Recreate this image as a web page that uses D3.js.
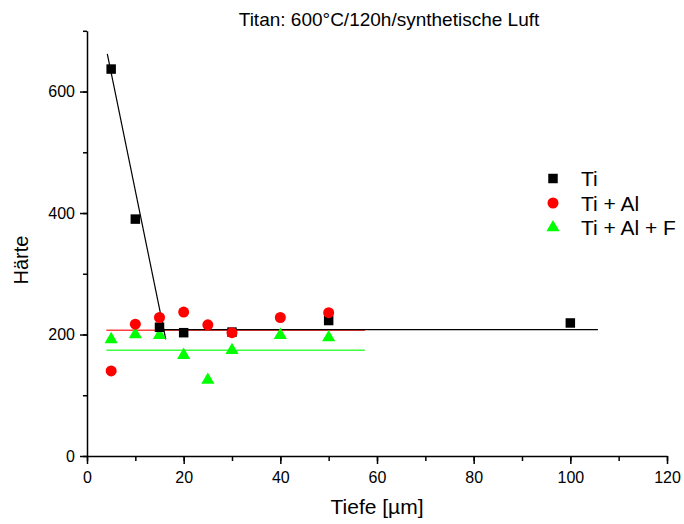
<!DOCTYPE html>
<meta charset="utf-8">
<head>
<style>
body { margin: 0; background: #fff; }
svg { font-family: Arial, "Liberation Sans", sans-serif; }
.axis path, .axis line { stroke: #000; stroke-width: 1.5; }
.axis text { font-size: 16px; fill: #000; }
</style>
</head>
<body>
<svg width="684" height="524"></svg>
<script src="https://cdnjs.cloudflare.com/ajax/libs/d3/7.8.5/d3.min.js"></script>
<script>

// Ti
var depthTi = [5, 10, 15, 20, 30, 50, 100];
var hardTi  = [637, 390, 212, 203, 204, 223, 219];
// Ti + Al
var depthAl = [5, 10, 15, 20, 25, 30, 40, 50];
var hardAl  = [140, 217, 228, 237, 216, 203, 228, 236];
// Ti + Al + F
var depthF  = [5, 10, 15, 20, 25, 30, 40, 50];
var hardF   = [192, 200, 199, 166, 125, 174, 199, 195];

// fit lines, [depth, hardness] end points
var fitTiDrop = [[4.2, 662], [16.3, 192]];
var fitTiFlat = [[15.2, 208], [105.7, 208]];
var fitAl     = [[4.0, 207], [57.5, 207]];
var fitF      = [[4.0, 174], [57.5, 174]];

var xMajor = [0, 20, 40, 60, 80, 100, 120];
var yMajor = [0, 200, 400, 600];

var svg = d3.select("svg");

var x = d3.scaleLinear().domain([0, 120]).range([87, 667]);
var y = d3.scaleLinear().domain([0, 700]).range([456, 30.8]);

// minor ticks first
svg.append("g")
    .attr("class", "axis")
    .attr("transform", "translate(0," + y(0) + ")")
    .call(d3.axisBottom(x).tickValues(d3.range(0, 121, 10)).tickSize(5).tickFormat(""))
    .select(".domain").remove();
svg.append("g")
    .attr("class", "axis")
    .attr("transform", "translate(" + x(0) + ",0)")
    .call(d3.axisLeft(y).tickValues(d3.range(0, 701, 100)).tickSize(4).tickFormat(""))
    .select(".domain").remove();

svg.append("g")
    .attr("class", "axis")
    .attr("transform", "translate(0," + y(0) + ")")
    .call(d3.axisBottom(x).tickValues(xMajor).tickSize(8).tickSizeOuter(0).tickPadding(8));
svg.append("g")
    .attr("class", "axis")
    .attr("transform", "translate(" + x(0) + ",0)")
    .call(d3.axisLeft(y).tickValues(yMajor).tickSize(7).tickSizeOuter(0).tickPadding(5));

// fit lines
var line = d3.line().x(function(d) { return x(d[0]); }).y(function(d) { return y(d[1]); });
svg.append("path").datum(fitAl).attr("d", line)
    .attr("fill", "none").attr("stroke", "#ff4040").attr("stroke-width", 1.5);
svg.append("path").datum(fitF).attr("d", line)
    .attr("fill", "none").attr("stroke", "#40ff40").attr("stroke-width", 1.5);
svg.append("path").datum(fitTiDrop).attr("d", line)
    .attr("fill", "none").attr("stroke", "#000").attr("stroke-width", 1.2);
svg.append("path").datum(fitTiFlat).attr("d", line)
    .attr("fill", "none").attr("stroke", "#000").attr("stroke-width", 1.2);

// markers
var sqr = d3.symbol().type(d3.symbolSquare).size(90);
var circ = d3.symbol().type(d3.symbolCircle).size(95);
var tri = d3.symbol().type(d3.symbolTriangle).size(75);

svg.append("g").selectAll("path")
    .data(depthF)
    .enter().append("path")
      .attr("d", tri)
      .attr("fill", "#00ff00")
      .attr("transform", function(d, i) { return "translate(" + x(d) + "," + y(hardF[i]) + ")"; });

svg.append("g").selectAll("path")
    .data(depthTi)
    .enter().append("path")
      .attr("d", sqr)
      .attr("fill", "#000")
      .attr("transform", function(d, i) { return "translate(" + x(d) + "," + y(hardTi[i]) + ")"; });

svg.append("g").selectAll("path")
    .data(depthAl)
    .enter().append("path")
      .attr("d", circ)
      .attr("fill", "#ff0000")
      .attr("transform", function(d, i) { return "translate(" + x(d) + "," + y(hardAl[i]) + ")"; });

// legend
var legendNames = ["Ti", "Ti + Al", "Ti + Al + F"];
var legendSym = [sqr, circ, tri];
var legendCol = ["#000", "#ff0000", "#00ff00"];

var lg = svg.append("g").selectAll("g")
    .data(legendNames)
    .enter().append("g")
      .attr("transform", function(d, i) { return "translate(553," + (178.5 + i * 24.5) + ")"; });
lg.append("path")
    .attr("d", function(d, i) { return legendSym[i](); })
    .attr("fill", function(d, i) { return legendCol[i]; });
lg.append("text")
    .attr("x", 28)
    .attr("y", 7.5)
    .style("font-size", "21px")
    .text(function(d) { return d; });

// titles
svg.append("text")
    .attr("x", 389)
    .attr("y", 26)
    .attr("text-anchor", "middle")
    .style("font-size", "19px")
    .text("Titan: 600°C/120h/synthetische Luft");

svg.append("text")
    .attr("x", 377)
    .attr("y", 514)
    .attr("text-anchor", "middle")
    .style("font-size", "21px")
    .text("Tiefe [µm]");

svg.append("text")
    .attr("transform", "translate(28,260) rotate(-90)")
    .attr("text-anchor", "middle")
    .style("font-size", "20px")
    .text("Härte");

</script>
</body>
</html>
